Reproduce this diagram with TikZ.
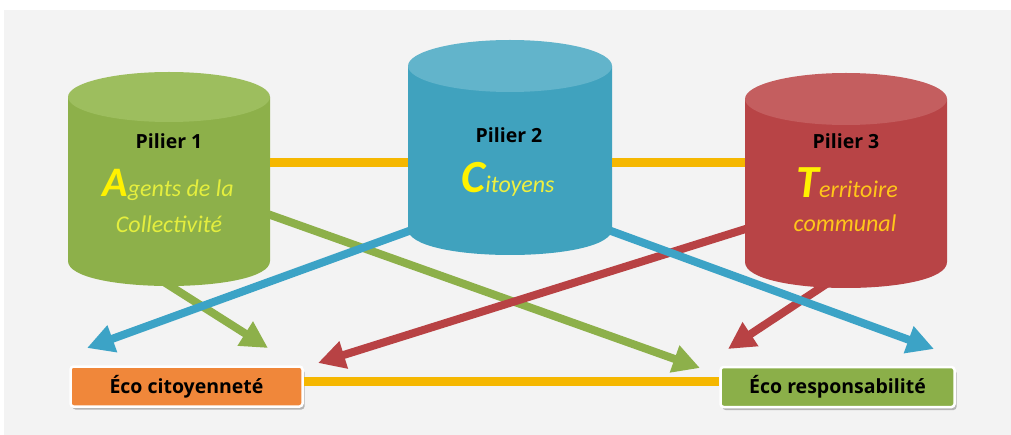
\documentclass[tikz,border=0pt]{standalone}
\usepackage{fontspec}
\setmainfont{Carlito}
\newfontfamily\boldsans{Open Sans}
\usetikzlibrary{arrows.meta,shadows}
\definecolor{bgc}{HTML}{F3F3F3}
\definecolor{gcyl}{HTML}{8DB04A}
\definecolor{gtop}{HTML}{9DBE5E}
\definecolor{bcyl}{HTML}{40A2BE}
\definecolor{btop}{HTML}{62B4CB}
\definecolor{rcyl}{HTML}{B84446}
\definecolor{rtop}{HTML}{C45E5F}
\definecolor{orl}{HTML}{F5B700}
\definecolor{garr}{HTML}{8DB04A}
\definecolor{barr}{HTML}{3CA3C6}
\definecolor{rarr}{HTML}{B84244}
\definecolor{obox}{HTML}{F0873A}
\definecolor{gbox}{HTML}{8BAF49}
\definecolor{yA}{HTML}{E4EE3E}
\definecolor{yC}{HTML}{EEF040}
\definecolor{yT}{HTML}{FFC61A}
\definecolor{bigY}{HTML}{FFF200}
\tikzset{
  link/.style={orl,line width=9pt},
  arr/.style={line width=8pt,-{Triangle[length=27pt,width=27pt]}},
  pil/.style={font=\boldsans\bfseries\fontsize{19.5}{21}\selectfont,text=black,anchor=base,inner sep=0pt},
  ital/.style={font=\itshape\fontsize{24}{26}\selectfont,anchor=base,inner sep=0pt},
  ecobox/.style={draw=white,line width=2.5pt,rounded corners=3pt,minimum height=40pt,
     font=\boldsans\bfseries\fontsize{19.5}{21}\selectfont,text=black,
     drop shadow={shadow xshift=2pt,shadow yshift=-3pt,fill=black!45,opacity=0.6}},
}
\newcommand{\cyl}[8]{% L R topcy ry botcy fill topfill name
  \fill[#6] (#1,#3) -- (#1,#5) .. controls (#1,#5+1.333*#4) and (#2,#5+1.333*#4) .. (#2,#5) -- (#2,#3) -- cycle;
  \fill[#7] ({(#1+#2)/2},#3) ellipse [x radius={(#2-#1)/2}, y radius=#4];
  \node[inner sep=0pt,minimum width={(#2-#1)*1pt},minimum height={(#5-#3)*1pt}] (#8) at ({(#1+#2)/2},{(#3+#5)/2}) {};
}
\begin{document}
\begin{tikzpicture}[x=1pt,y=-1pt]
\useasboundingbox (0,0) rectangle (1011,435);
\fill[white] (0,0) rectangle (1011,435);
\fill[bgc] (4,10) rectangle (1011,435);

% anchor coordinates for connectors
\coordinate (g1s) at (145,270);
\coordinate (g1e) at (268,348);
\coordinate (g2s) at (262,212);
\coordinate (g2e) at (700,368);
\coordinate (b1s) at (420,227);
\coordinate (b1e) at (87,348);
\coordinate (b2s) at (600,227);
\coordinate (b2e) at (934,349);
\coordinate (r1s) at (752,227);
\coordinate (r1e) at (318,363);
\coordinate (r2s) at (840,275);
\coordinate (r2e) at (728,349);

% arrows (behind cylinders)
\draw[arr,garr] (g1s) -- (g1e);
\draw[arr,garr] (g2s) -- (g2e);
\draw[arr,rarr] (r1s) -- (r1e);
\draw[arr,rarr] (r2s) -- (r2e);
\draw[arr,barr] (b1s) -- (b1e);
\draw[arr,barr] (b2s) -- (b2e);

% cylinders
\cyl{68}{270}{97}{25}{261}{gcyl}{gtop}{p1}
\cyl{408}{612}{66}{26}{229}{bcyl}{btop}{p2}
\cyl{745}{947}{99}{26}{262}{rcyl}{rtop}{p3}

% orange links between pillars
\draw[link] (p1.east |- 0,163) -- (p2.west |- 0,163);
\draw[link] (p2.east |- 0,163) -- (p3.west |- 0,163);

% pillar texts
\node[pil] (t1) at (169,149) {Pilier 1};
\node[ital,text=yA] (a1) at (168,197) {\textcolor{bigY}{\fontsize{42}{44}\selectfont\bfseries A}gents de la};
\node[ital,text=yA] (a2) at (169,233) {Collectivité};
\node[pil] (t2) at (509,143) {Pilier 2};
\node[ital,text=yC] (c1) at (508,193) {\textcolor{bigY}{\fontsize{46}{48}\selectfont\bfseries C}itoyens};
\node[pil] (t3) at (846,149) {Pilier 3};
\node[ital,text=yT] (d1) at (847,198) {\textcolor{bigY}{\fontsize{46}{48}\selectfont\bfseries T}erritoire};
\node[ital,text=yT] (d2) at (845,232) {communal};

% bottom boxes
\node[ecobox,fill=obox,minimum width=232pt] (e1) at (186.5,386.5) {Éco citoyenneté};
\node[ecobox,fill=gbox,minimum width=234pt] (e2) at (837.5,387) {Éco responsabilité};
\draw[link] (e1.east |- 0,381) -- (e2.west |- 0,381);
\end{tikzpicture}
\end{document}
